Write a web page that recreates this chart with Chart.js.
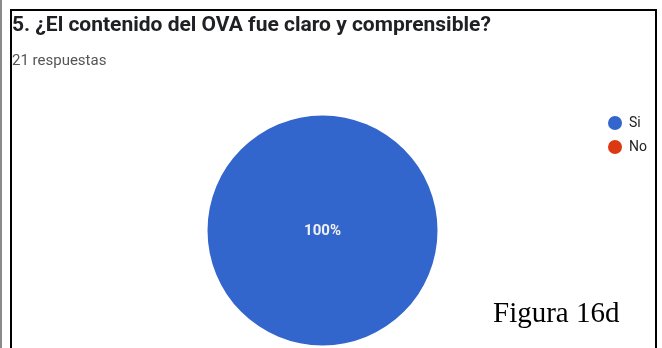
<!DOCTYPE html>
<html>
<head>
<meta charset="utf-8">
<script src="https://cdn.jsdelivr.net/npm/chart.js@4.4.0/dist/chart.umd.min.js"></script>
<style>
  html, body { margin: 0; padding: 0; background: #fff; }
  #page { position: relative; width: 662px; height: 348px; overflow: hidden; background: #fff; }
  #edge { position: absolute; left: 0; top: 0; width: 2px; height: 348px; background: #8a8a8a; }
  #frame { position: absolute; left: 10px; top: 9px; width: 643px; height: 400px; border: 2px solid #000; }
  #chart { position: absolute; left: 0; top: 0; }
  .title { position: absolute; left: 12px; top: 14px; font: bold 21px Roboto, sans-serif; color: #202124;
           white-space: nowrap; line-height: 21px; }
  .sub { position: absolute; left: 12px; top: 53px; font: 15px Roboto, sans-serif; color: #555;
         white-space: nowrap; line-height: 15px; }
  .fig { position: absolute; left: 493px; top: 298px; font: 29px "Liberation Serif", "Times New Roman", serif;
         color: #000; white-space: nowrap; line-height: 29px; }
</style>
</head>
<body>
<div id="page">
  <div id="edge"></div>
  <div id="frame"></div>
  <canvas id="chart" width="662" height="360"></canvas>
  <div class="title">5. ¿El contenido del OVA fue claro y comprensible?</div>
  <div class="sub">21 respuestas</div>
  <div class="fig">Figura 16d</div>
</div>
<script>
  let labels = ["Si", "No"];
  let answers = [21, 0];
  let colors = ["#3366cc", "#dc3912"];

  // percentage text drawn over each slice
  const sliceLabels = {
    id: 'sliceLabels',
    afterDatasetsDraw(chart) {
      const ctx = chart.ctx;
      const data = chart.data.datasets[0].data;
      const total = data.reduce((a, b) => a + b, 0);
      chart.getDatasetMeta(0).data.forEach(function (arc, i) {
        if (!data[i]) return;
        const pct = Math.round(data[i] / total * 100);
        let pos = pct === 100 ? { x: arc.x, y: arc.y } : arc.tooltipPosition();
        ctx.save();
        ctx.fillStyle = '#f1f1f1';
        ctx.font = 'bold 15px Roboto, sans-serif';
        ctx.textAlign = 'center';
        ctx.textBaseline = 'middle';
        ctx.fillText(pct + '%', pos.x, pos.y + 1);
        ctx.restore();
      });
    }
  };

  let ctx = document.getElementById("chart").getContext('2d');
  let chart = new Chart(ctx, {
    type: 'pie',
    data: {
      labels: labels,
      datasets: [{
        data: answers,
        backgroundColor: colors,
        borderWidth: 0,
        radius: 115
      }]
    },
    options: {
      responsive: false,
      animation: false,
      devicePixelRatio: 1,
      layout: {
        padding: { left: 47, right: 5, top: 106, bottom: 5 }
      },
      plugins: {
        legend: {
          position: 'right',
          align: 'start',
          labels: {
            usePointStyle: true,
            pointStyle: 'circle',
            boxHeight: 10,
            pointStyleWidth: 14,
            padding: 10,
            color: '#222',
            font: { family: 'Roboto', size: 14 }
          }
        },
        tooltip: { enabled: false }
      }
    },
    plugins: [sliceLabels]
  });
</script>
</body>
</html>
